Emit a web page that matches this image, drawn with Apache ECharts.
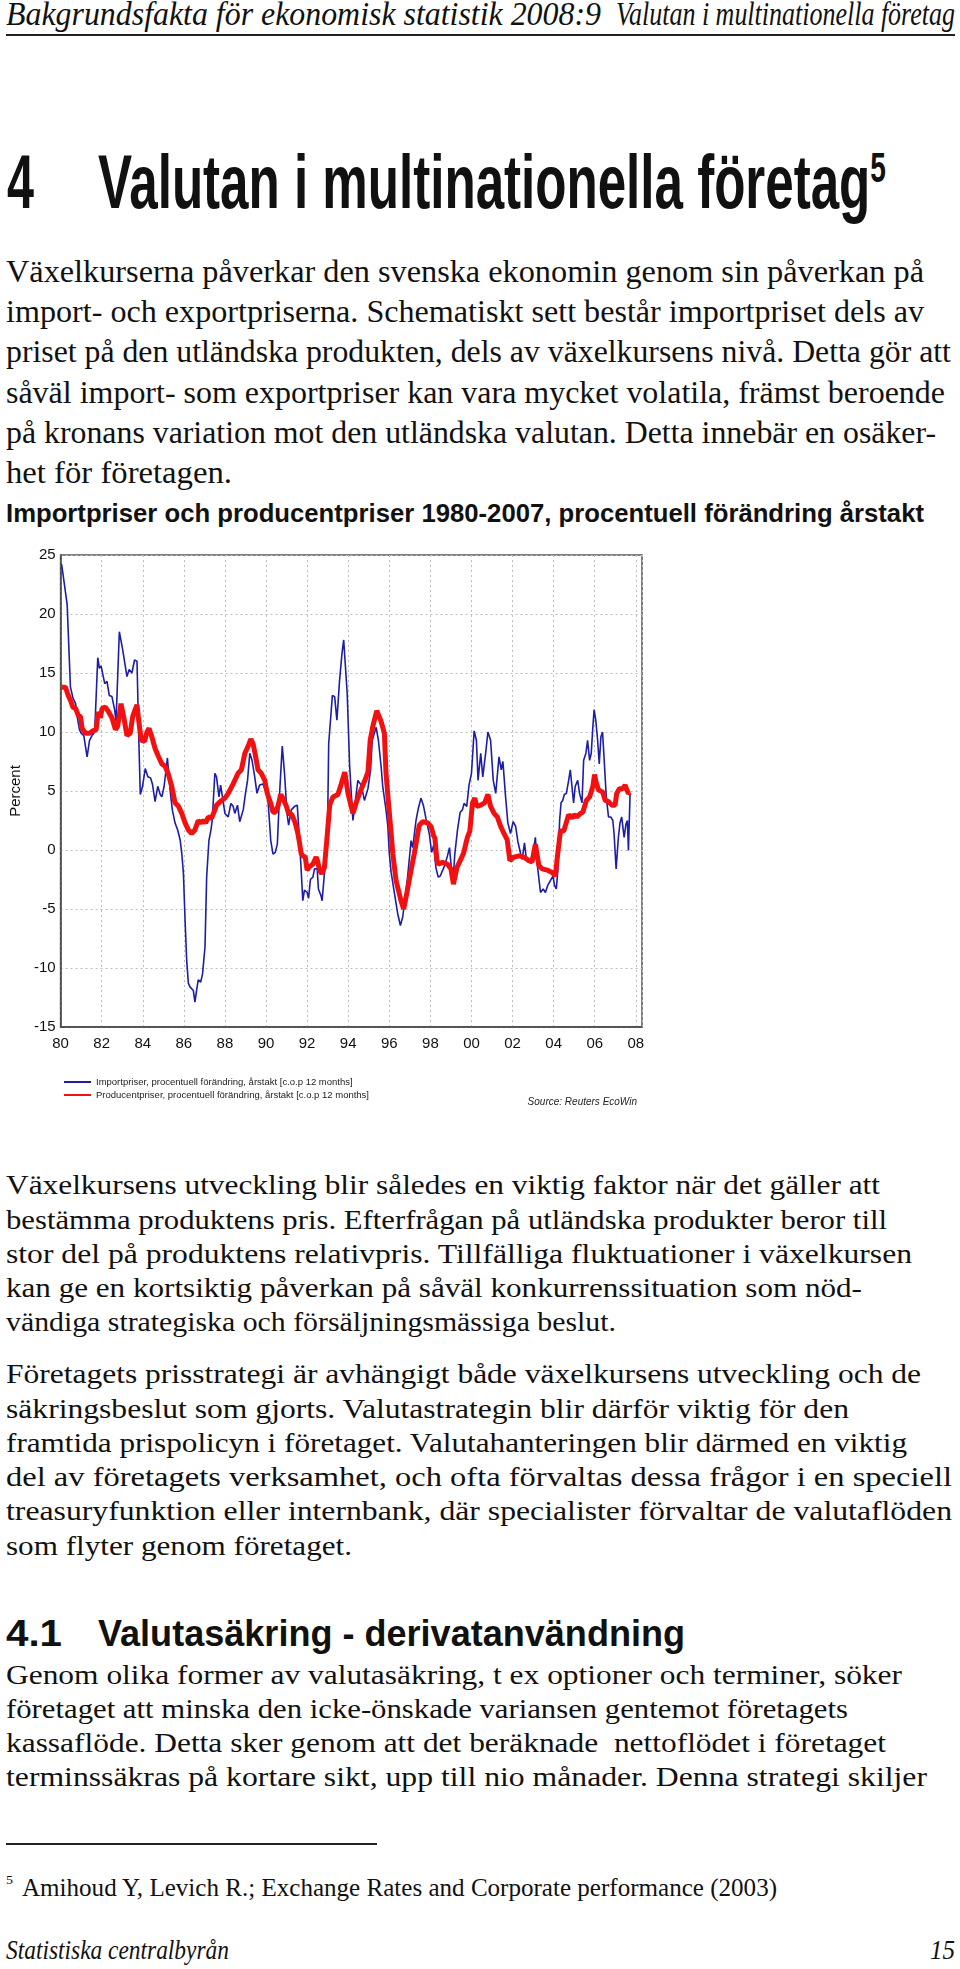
<!DOCTYPE html>
<html>
<head>
<meta charset="utf-8">
<script src="https://cdn.jsdelivr.net/npm/echarts@6/dist/echarts.min.js"></script>
<style>
html,body{margin:0;padding:0;background:#fff;}
#page{position:relative;width:960px;height:1969px;overflow:hidden;background:#fff;color:#111;}
.ln{position:absolute;white-space:nowrap;transform-origin:0 0;line-height:1.2;}
.serif{font-family:"Liberation Serif","Times New Roman",serif;}
.sans{font-family:"Liberation Sans",Arial,sans-serif;}
.it{font-style:italic;}
.bold{font-weight:bold;}
.rule{position:absolute;background:#222;}
#chart{position:absolute;left:0;top:530px;width:670px;height:590px;}
sup{font-size:0.55em;vertical-align:0.62em;line-height:0;}
</style>
</head>
<body>
<div id="page">
  <div class="ln serif it" style="font-size:33px" data-x="6" data-b="25" data-w="595">Bakgrundsfakta för ekonomisk statistik 2008:9</div>
  <div class="ln serif it" style="font-size:33px" data-x="616" data-b="25" data-w="339">Valutan i multinationella företag</div>
  <div class="rule" style="left:6px;top:34px;width:949px;height:2px;"></div>

  <div class="ln sans bold" style="font-size:76px" data-x="7" data-b="208" data-w="27">4</div>
  <div class="ln sans bold" style="font-size:76px" data-x="98" data-b="208" data-w="788">Valutan i multinationella företag<sup>5</sup></div>

  <div class="ln serif" style="font-size:31px" data-x="6" data-b="282" data-w="918">Växelkurserna påverkar den svenska ekonomin genom sin påverkan på</div>
  <div class="ln serif" style="font-size:31px" data-x="6" data-b="322" data-w="918">import- och exportpriserna. Schematiskt sett består importpriset dels av</div>
  <div class="ln serif" style="font-size:31px" data-x="6" data-b="362" data-w="945">priset på den utländska produkten, dels av växelkursens nivå. Detta gör att</div>
  <div class="ln serif" style="font-size:31px" data-x="6" data-b="403" data-w="939">såväl import- som exportpriser kan vara mycket volatila, främst beroende</div>
  <div class="ln serif" style="font-size:31px" data-x="6" data-b="443" data-w="930">på kronans variation mot den utländska valutan. Detta innebär en osäker-</div>
  <div class="ln serif" style="font-size:31px" data-x="6" data-b="483" data-w="226">het för företagen.</div>

  <div class="ln sans bold" style="font-size:26px" data-x="6" data-b="522" data-w="918">Importpriser och producentpriser 1980-2007, procentuell förändring årstakt</div>

  <div id="chart"></div>

  <div class="ln serif" style="font-size:27px" data-x="6" data-b="1194" data-w="874">Växelkursens utveckling blir således en viktig faktor när det gäller att</div>
  <div class="ln serif" style="font-size:27px" data-x="6" data-b="1229" data-w="881">bestämma produktens pris. Efterfrågan på utländska produkter beror till</div>
  <div class="ln serif" style="font-size:27px" data-x="6" data-b="1263" data-w="906">stor del på produktens relativpris. Tillfälliga fluktuationer i växelkursen</div>
  <div class="ln serif" style="font-size:27px" data-x="6" data-b="1297" data-w="856">kan ge en kortsiktig påverkan på såväl konkurrenssituation som nöd-</div>
  <div class="ln serif" style="font-size:27px" data-x="6" data-b="1331" data-w="610">vändiga strategiska och försäljningsmässiga beslut.</div>

  <div class="ln serif" style="font-size:27px" data-x="6" data-b="1383" data-w="915">Företagets prisstrategi är avhängigt både växelkursens utveckling och de</div>
  <div class="ln serif" style="font-size:27px" data-x="6" data-b="1418" data-w="843">säkringsbeslut som gjorts. Valutastrategin blir därför viktig för den</div>
  <div class="ln serif" style="font-size:27px" data-x="6" data-b="1452" data-w="901">framtida prispolicyn i företaget. Valutahanteringen blir därmed en viktig</div>
  <div class="ln serif" style="font-size:27px" data-x="6" data-b="1486" data-w="946">del av företagets verksamhet, och ofta förvaltas dessa frågor i en speciell</div>
  <div class="ln serif" style="font-size:27px" data-x="6" data-b="1520" data-w="946">treasuryfunktion eller internbank, där specialister förvaltar de valutaflöden</div>
  <div class="ln serif" style="font-size:27px" data-x="6" data-b="1555" data-w="346">som flyter genom företaget.</div>

  <div class="ln sans bold" style="font-size:36px" data-x="6" data-b="1646" data-w="56">4.1</div>
  <div class="ln sans bold" style="font-size:36px" data-x="98" data-b="1646" data-w="587">Valutasäkring - derivatanvändning</div>

  <div class="ln serif" style="font-size:27px" data-x="6" data-b="1684" data-w="896">Genom olika former av valutasäkring, t ex optioner och terminer, söker</div>
  <div class="ln serif" style="font-size:27px" data-x="6" data-b="1718" data-w="842">företaget att minska den icke-önskade variansen gentemot företagets</div>
  <div class="ln serif" style="font-size:27px" data-x="6" data-b="1752" data-w="880">kassaflöde. Detta sker genom att det beräknade&nbsp; nettoflödet i företaget</div>
  <div class="ln serif" style="font-size:27px" data-x="6" data-b="1786" data-w="921">terminssäkras på kortare sikt, upp till nio månader. Denna strategi skiljer</div>

  <div class="rule" style="left:6px;top:1843px;width:371px;height:1.5px;"></div>
  <div class="ln serif" style="font-size:13px" data-x="6" data-b="1884" data-w="7">5</div>
  <div class="ln serif" style="font-size:26px" data-x="22" data-b="1896" data-w="755">Amihoud Y, Levich R.; Exchange Rates and Corporate performance (2003)</div>

  <div class="ln serif it" style="font-size:28px" data-x="6" data-b="1959" data-w="223">Statistiska centralbyrån</div>
  <div class="ln serif it" style="font-size:28px" data-x="930" data-b="1959" data-w="25">15</div>
</div>

<script>
// ---- Chart data ----
const yAxisTicks = [-15, -10, -5, 0, 5, 10, 15, 20, 25];
const xTickYears = [1980, 1982, 1984, 1986, 1988, 1990, 1992, 1994, 1996, 1998, 2000, 2002, 2004, 2006, 2008];

const importName = 'Importpriser, procentuell förändring, årstakt [c.o.p 12 months]';
const importYears = [1980.05,1980.18,1980.32,1980.48,1980.60,1980.73,1980.81,1980.92,1981.00,1981.13,1981.29,1981.41,1981.53,1981.66,1981.81,1981.89,1981.97,1982.05,1982.15,1982.26,1982.37,1982.50,1982.63,1982.70,1982.86,1983.02,1983.23,1983.34,1983.47,1983.60,1983.72,1983.80,1983.88,1983.99,1984.12,1984.25,1984.38,1984.47,1984.60,1984.73,1984.85,1984.93,1985.04,1985.20,1985.33,1985.44,1985.57,1985.70,1985.82,1985.90,1985.98,1986.06,1986.14,1986.22,1986.30,1986.38,1986.46,1986.54,1986.62,1986.70,1986.82,1986.91,1987.03,1987.11,1987.22,1987.32,1987.38,1987.51,1987.59,1987.71,1987.79,1987.88,1988.00,1988.16,1988.29,1988.40,1988.48,1988.61,1988.72,1988.89,1989.00,1989.10,1989.21,1989.32,1989.45,1989.56,1989.69,1989.85,1990.02,1990.10,1990.23,1990.34,1990.45,1990.55,1990.66,1990.79,1990.90,1991.02,1991.10,1991.23,1991.39,1991.52,1991.63,1991.71,1991.79,1991.87,1992.00,1992.07,1992.16,1992.28,1992.36,1992.49,1992.55,1992.68,1992.73,1992.84,1993.00,1993.05,1993.23,1993.34,1993.45,1993.58,1993.70,1993.78,1993.86,1993.95,1994.07,1994.23,1994.47,1994.63,1994.79,1994.96,1995.09,1995.17,1995.36,1995.47,1995.60,1995.68,1995.84,1995.93,1996.00,1996.09,1996.17,1996.28,1996.41,1996.54,1996.65,1996.77,1996.89,1997.06,1997.14,1997.30,1997.41,1997.54,1997.67,1997.78,1997.95,1998.06,1998.16,1998.27,1998.38,1998.48,1998.59,1998.70,1998.83,1998.93,1999.03,1999.12,1999.19,1999.32,1999.45,1999.56,1999.64,1999.77,1999.88,2000.00,2000.13,2000.24,2000.32,2000.45,2000.55,2000.69,2000.80,2000.93,2001.06,2001.18,2001.34,2001.45,2001.53,2001.66,2001.77,2001.90,2002.03,2002.15,2002.26,2002.39,2002.47,2002.58,2002.68,2002.87,2003.03,2003.11,2003.20,2003.36,2003.49,2003.60,2003.71,2003.84,2003.97,2004.04,2004.13,2004.20,2004.29,2004.36,2004.44,2004.52,2004.62,2004.73,2004.81,2004.89,2004.97,2005.05,2005.17,2005.26,2005.38,2005.46,2005.57,2005.65,2005.75,2005.83,2005.91,2005.97,2006.05,2006.14,2006.22,2006.30,2006.38,2006.46,2006.56,2006.67,2006.78,2006.88,2006.94,2007.04,2007.15,2007.23,2007.31,2007.43,2007.52,2007.59,2007.64,2007.72];
const importValues = [24.2,22.6,20.8,13.8,12.9,12.4,11.3,10.2,9.9,9.7,7.9,9.3,9.7,10.0,16.3,15.4,15.6,15.5,14.1,14.3,13.1,13.0,11.9,10.9,18.5,17.0,14.7,15.3,15.0,16.1,16.0,9.9,4.7,5.4,6.9,6.2,6.1,5.6,4.1,5.4,4.7,4.5,5.4,7.8,5.1,3.4,2.3,1.7,0.85,-0.3,-2.0,-6.0,-9.4,-11.3,-11.6,-11.5,-11.9,-12.9,-11.9,-11.0,-11.2,-10.5,-8.2,-2.3,0.8,1.7,2.5,6.5,6.2,4.5,5.5,4.5,3.1,2.8,3.95,3.7,3.1,3.8,2.4,3.4,4.8,5.9,8.2,7.6,6.2,4.8,5.5,5.6,4.8,4.1,0.8,-0.35,-0.2,0.5,4.8,8.8,6.5,3.1,2.1,3.4,3.7,3.8,0.8,-1.7,-4.3,-3.4,-3.6,-4.1,-2.5,-2.3,-1.6,-1.6,-3.3,-3.9,-4.3,-2.0,2.5,9.0,13.1,13.0,11.0,14.4,16.7,17.8,17.7,13.3,7.1,2.5,5.9,5.5,4.2,5.2,6.8,9.3,10.4,9.3,7.1,5.4,3.4,2.0,-0.3,-1.9,-2.0,-4.0,-5.4,-6.4,-5.7,-4.1,-2.3,0.8,0.2,2.5,3.5,4.4,3.7,2.7,1.35,-0.2,0.4,-1.5,-2.3,-2.2,-1.75,-1.3,-0.5,0.2,-1.7,-2.2,-0.3,1.7,3.2,3.4,3.95,3.7,5.5,6.5,10.1,9.3,5.9,8.2,6.2,8.2,10.0,9.3,5.9,4.8,7.9,6.8,7.5,4.5,2.3,1.4,2.4,2.0,0.7,-0.3,-0.8,0.6,-0.9,-1.0,0.1,1.07,-1.2,-3.6,-3.3,-3.6,-3.0,-2.6,-2.2,-3.0,-3.3,-1.8,2.5,4.0,4.2,4.7,4.8,5.9,6.8,5.4,4.0,5.4,5.9,4.8,4.0,7.6,8.2,9.3,7.6,8.2,10.5,11.9,11.0,9.3,7.3,9.6,10.0,7.6,4.5,2.8,2.8,2.5,1.4,-1.6,1.07,2.3,2.8,1.07,2.2,2.5,-0.05,4.8];

const producerName = 'Producentpriser, procentuell förändring, årstakt [c.o.p 12 months]';
const producerYears = [1980.05,1980.24,1980.37,1980.48,1980.60,1980.73,1980.86,1980.97,1981.05,1981.21,1981.41,1981.57,1981.73,1981.83,1981.94,1982.02,1982.18,1982.34,1982.50,1982.67,1982.78,1982.94,1983.07,1983.23,1983.39,1983.51,1983.63,1983.72,1983.80,1983.93,1984.09,1984.20,1984.31,1984.44,1984.60,1984.77,1984.93,1985.09,1985.25,1985.41,1985.57,1985.74,1985.90,1986.06,1986.22,1986.38,1986.54,1986.70,1986.82,1986.95,1987.06,1987.19,1987.35,1987.51,1987.59,1987.84,1988.00,1988.16,1988.40,1988.64,1988.80,1988.97,1989.13,1989.26,1989.37,1989.48,1989.61,1989.77,1989.94,1990.06,1990.23,1990.34,1990.45,1990.58,1990.71,1990.82,1990.99,1991.10,1991.26,1991.42,1991.55,1991.63,1991.71,1991.79,1991.91,1992.00,1992.12,1992.28,1992.44,1992.52,1992.60,1992.71,1992.84,1992.97,1993.10,1993.26,1993.50,1993.66,1993.83,1993.99,1994.23,1994.39,1994.55,1994.79,1994.96,1995.07,1995.20,1995.39,1995.60,1995.76,1995.84,1995.96,1996.09,1996.17,1996.33,1996.57,1996.70,1996.86,1997.06,1997.22,1997.38,1997.46,1997.62,1997.86,1998.03,1998.16,1998.22,1998.32,1998.38,1998.59,1998.83,1999.00,1999.12,1999.19,1999.29,1999.45,1999.61,1999.80,1999.92,2000.05,2000.16,2000.26,2000.45,2000.64,2000.80,2000.93,2001.10,2001.26,2001.42,2001.58,2001.74,2001.87,2002.06,2002.31,2002.55,2002.79,2002.95,2003.11,2003.28,2003.44,2003.68,2003.92,2004.08,2004.20,2004.33,2004.49,2004.73,2004.89,2005.01,2005.13,2005.30,2005.42,2005.59,2005.75,2005.91,2005.99,2006.07,2006.18,2006.39,2006.51,2006.67,2006.83,2006.99,2007.07,2007.20,2007.36,2007.48,2007.56,2007.64,2007.72];
const producerValues = [13.8,13.8,13.1,12.7,12.1,12.0,11.4,11.3,10.3,9.9,9.9,10.1,10.2,11.7,11.2,12.0,12.1,11.7,11.2,10.2,10.5,12.4,11.3,9.7,9.9,11.3,11.9,12.3,11.0,9.3,9.2,10.0,10.3,9.6,8.6,7.9,7.3,7.1,6.4,5.4,4.0,3.7,3.1,2.3,1.7,1.4,1.7,2.5,2.3,2.5,2.3,2.8,2.7,3.4,3.8,4.2,4.4,4.8,5.6,6.5,6.8,8.2,8.8,9.4,9.0,8.05,6.8,6.5,5.9,4.8,3.95,3.2,3.2,3.7,4.7,4.4,3.7,3.1,3.0,2.3,1.4,0.6,-0.3,-0.5,-0.6,-1.7,-1.4,-1.2,-0.6,-1.0,-1.7,-2.0,-1.5,1.07,3.8,4.5,4.7,5.6,6.6,4.8,3.1,4.0,4.8,5.8,6.6,9.3,10.5,11.8,10.9,9.9,6.5,4.0,1.4,-0.3,-2.6,-4.3,-5.0,-3.6,-1.7,-0.3,1.35,2.1,2.4,2.3,2.0,1.2,1.0,-0.9,-1.2,-1.05,-1.2,-1.6,-2.9,-2.75,-1.5,-0.9,-0.3,1.07,1.6,4.0,4.4,3.7,3.8,4.0,4.7,3.7,3.1,2.8,2.0,1.4,0.85,-0.9,-0.6,-0.5,-0.6,-0.9,-1.0,0.5,-1.3,-1.6,-1.7,-1.9,-2.2,-0.3,1.6,1.6,3.0,2.7,3.0,2.8,3.1,3.2,4.2,4.5,5.4,6.4,5.7,5.1,4.9,4.2,4.1,3.8,3.8,4.8,5.2,5.2,5.5,5.1,4.8,4.9];

const sourceText = 'Source: Reuters EcoWin';
const yAxisName = 'Percent';

function zip(xs, ys){ return xs.map((x,i)=>[x, ys[i]]); }

const chart = echarts.init(document.getElementById('chart'), null, {renderer:'canvas'});
const axisFont = '"Liberation Sans", Arial, sans-serif';
chart.setOption({
  animation:false,
  backgroundColor:'transparent',
  textStyle:{fontFamily:axisFont},
  title:[{
    text: sourceText, right: 28, top: 562,
    textStyle:{fontSize:10, fontStyle:'italic', fontWeight:'normal', color:'#222', fontFamily:axisFont}
  }],
  legend:{
    orient:'vertical', left:58, top:542, itemWidth:27, itemHeight:8, itemGap:3,
    itemStyle:{opacity:0},
    textStyle:{fontSize:9.5, lineHeight:8, color:'#222', fontFamily:axisFont},
    data:[importName, producerName]
  },
  grid:{left:58, right:28, top:25, bottom:93, show:true, borderColor:'#555', borderWidth:1.5, backgroundColor:'transparent'},
  xAxis:{
    type:'value', min:xTickYears[0], max:2008.3, interval:2,
    axisLine:{show:true, onZero:false, lineStyle:{color:'#444', width:1.5}},
    axisTick:{show:false},
    axisLabel:{fontSize:15, color:'#111', margin:9, showMaxLabel:true,
      formatter:v=> (xTickYears.indexOf(v) >= 0) ? String(v % 100).padStart(2,'0') : ''},
    splitLine:{show:true, lineStyle:{color:'#bdbdbd', type:[2,3], width:1}}
  },
  yAxis:{
    type:'value', min:yAxisTicks[0], max:yAxisTicks[yAxisTicks.length-1], interval:5,
    name:yAxisName, nameLocation:'middle', nameGap:35,
    nameTextStyle:{fontSize:15, color:'#111', fontFamily:axisFont},
    axisLine:{show:true, onZero:false, lineStyle:{color:'#444', width:1.5}},
    axisTick:{show:false},
    axisLabel:{fontSize:15, color:'#111', margin:5},
    splitLine:{show:true, lineStyle:{color:'#bdbdbd', type:[2,3], width:1}}
  },
  series:[
    {name:importName, type:'line', data:zip(importYears, importValues), symbol:'none',
     lineStyle:{color:'#1d1daa', width:1.6}, itemStyle:{color:'#1d1daa'}, z:2},
    {name:producerName, type:'line', data:zip(producerYears, producerValues), symbol:'none',
     lineStyle:{color:'#f21010', width:5}, itemStyle:{color:'#f21010'}, z:3}
  ]
});

// ---- Text layout: place each line on its baseline and fit its width ----
function layoutText(){
  document.querySelectorAll('.ln').forEach(el=>{
    el.style.transform='none';
    el.style.left = el.dataset.x + 'px';
    el.style.top = '0px';
    const m = document.createElement('span');
    m.style.cssText = 'display:inline-block;width:0;height:0;vertical-align:baseline;';
    el.appendChild(m);
    const base = m.offsetTop;
    el.removeChild(m);
    el.style.top = (+el.dataset.b - base) + 'px';
    const w = +el.dataset.w;
    if (w) {
      const nat = el.getBoundingClientRect().width;
      if (nat > 0) el.style.transform = 'scaleX(' + (w / nat).toFixed(4) + ')';
    }
  });
}
layoutText();
if (document.fonts && document.fonts.ready) document.fonts.ready.then(layoutText);
</script>
</body>
</html>
